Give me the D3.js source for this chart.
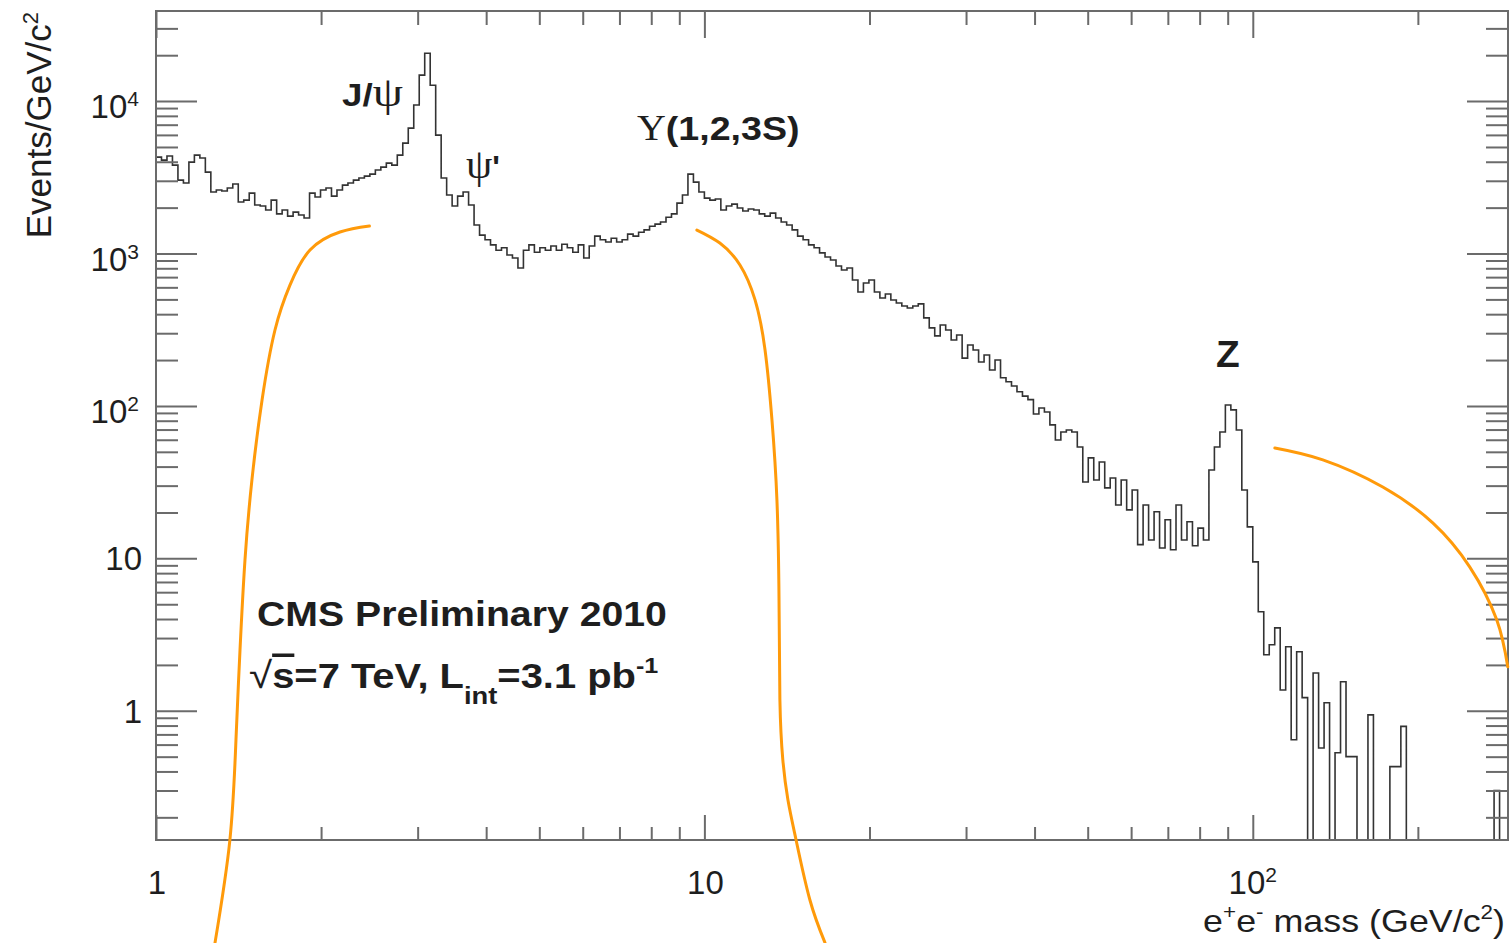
<!DOCTYPE html>
<html>
<head>
<meta charset="utf-8">
<script src="https://cdn.jsdelivr.net/npm/d3@7"></script>
<style>
  html, body { margin: 0; padding: 0; background: #fff; }
  svg { display: block; }
  text { font-family: "Liberation Sans", Arial, Helvetica, sans-serif; fill: #1e1e1e; }
</style>
</head>
<body>
<svg id="chart" width="1510" height="943"></svg>
<script>
// ---- data ----
// e+e- invariant mass histogram, log bins: 100 per decade starting at 1 GeV/c2
const massStart = 1;
const binsPerDecade = 100;
const eventsPerGeV = [
  4290, 4100, 4360, 3800, 3030, 2900, 3980, 4420, 4230, 3420,
  2530, 2610, 2570, 2690, 2860, 2180, 2240, 2490, 2080, 2050,
  1930, 2240, 1820, 1930, 1760, 1870, 1790, 1710, 2490, 2350,
  2610, 2690, 2380, 2610, 2810, 2900, 3030, 3130, 3220, 3320,
  3530, 3690, 3920, 3800, 4420, 5300, 6650, 9420, 14800, 20600,
  12700, 5980, 3130, 2420, 2050, 2380, 2530, 2080, 1540, 1320,
  1230, 1140, 1050, 1090, 978, 934, 803, 1050, 1140, 1020,
  1090, 1050, 1120, 1050, 1150, 1090, 1020, 1140, 934, 1120,
  1300, 1230, 1190, 1260, 1190, 1230, 1340, 1300, 1380, 1430,
  1510, 1560, 1610, 1730, 1820, 2140, 2420, 3320, 2940, 2530,
  2310, 2240, 2280, 1930, 2050, 2110, 1990, 1900, 1960, 1930,
  1820, 1760, 1840, 1710, 1610, 1540, 1430, 1300, 1230, 1140,
  1090, 1010, 948, 907, 828, 780, 803, 670, 559, 641,
  670, 559, 511, 543, 496, 474, 453, 439, 453, 467,
  378, 325, 288, 340, 315, 271, 292, 206, 251, 233,
  194, 216, 172, 200, 153, 144, 135, 124, 116, 110,
  88.6, 97.0, 91.3, 75.1, 59.8, 67.5, 69.6, 67.5, 53.8, 31.7,
  45.6, 32.7, 42.9, 29.0, 33.7, 22.4, 32.7, 20.8, 28.1, 12.3,
  22.4, 13.2, 20.2, 11.7, 17.9, 11.4, 22.4, 13.2, 17.4, 12.1,
  15.8, 13.2, 38.0, 53.8, 67.5, 101.5, 94.2, 69.6, 28.1, 16.1,
  9.49, 4.46, 2.33, 2.71, 3.50, 1.37, 2.63, 0.645, 2.44, 1.22,
  0, 1.77, 0.57, 1.13, 0, 0.53, 1.55, 0.50, 0.50, 0,
  0, 0.94, 0, 0, 0, 0.43, 0.43, 0.79, 0, 0,
  0, 0, 0, 0, 0, 0, 0, 0, 0, 0,
  0, 0, 0, 0, 0.3, 0, 0
];

// axis ranges and tick labels
const massRange = [1, 292];
const eventsRange = [0.142, 39000];
const xTickLabels = [
  { value: 1, base: "1" },
  { value: 10, base: "10" },
  { value: 100, base: "10", exp: "2" }
];
const yTickLabels = [
  { value: 1, base: "1" },
  { value: 10, base: "10" },
  { value: 100, base: "10", exp: "2" },
  { value: 1000, base: "10", exp: "3" },
  { value: 10000, base: "10", exp: "4" }
];

// hand-drawn orange arcs, in (mass, events/GeV) coordinates
const arcLeft = [
  [2.450, 1515], [2.165, 1384], [1.909, 1054], [1.755, 621], [1.648, 315],
  [1.561, 109.5], [1.496, 32.7], [1.453, 9.78], [1.423, 2.51], [1.399, 0.645],
  [1.364, 0.143], [1.281, 0.030]
];
const arcMiddle = [
  [9.69, 1426], [10.67, 1172], [11.61, 841], [12.37, 496], [12.90, 233],
  [13.28, 80.9], [13.56, 24.2], [13.68, 5.34], [13.73, 1.18], [13.90, 0.477],
  [14.20, 0.261], [14.69, 0.143], [15.57, 0.0576], [16.59, 0.0301]
];
const arcRight = [
  [109.7, 53.0], [134.2, 44.3], [172.6, 29.4], [212.9, 17.1], [248.6, 8.80],
  [278.5, 3.95], [291.7, 1.944]
];

// ---- layout ----
const frame = { left: 156, right: 1508, top: 11, bottom: 840 };
const axisColor = "#6b6b6b";
const histColor = "#333";
const arcColor = "#ff9a0a";

const svg = d3.select("#chart");

const x = d3.scaleLog().domain(massRange).range([frame.left, frame.right]);
const y = d3.scaleLog().domain(eventsRange).range([frame.bottom, frame.top]);

const isDecade = v => Math.abs(Math.log10(v) - Math.round(Math.log10(v))) < 1e-9;

// text with super/subscripts: parts = [{t, shift, size, weight, family, deco}]
function richText(parent, parts, attrs) {
  const t = parent.append("text");
  Object.entries(attrs).forEach(([k, v]) => t.attr(k, v));
  let cur = 0;
  parts.forEach(p => {
    const s = t.append("tspan").text(p.t);
    const target = p.shift || 0;
    if (target !== cur) s.attr("dy", target - cur);
    cur = target;
    if (p.size) s.attr("font-size", p.size);
    if (p.weight) s.attr("font-weight", p.weight);
    if (p.family) s.style("font-family", p.family);
    if (p.deco) s.style("text-decoration", p.deco);
  });
  return t;
}

// clip for the histogram
svg.append("defs").append("clipPath").attr("id", "plotClip")
  .append("rect")
  .attr("x", frame.left).attr("y", frame.top)
  .attr("width", frame.right - frame.left)
  .attr("height", frame.bottom - frame.top);

// ---- histogram ----
const binEdge = i => massStart * Math.pow(10, i / binsPerDecade);
const stepPoints = eventsPerGeV.map((v, i) => [binEdge(i), v]);
stepPoints.push([binEdge(eventsPerGeV.length), eventsPerGeV[eventsPerGeV.length - 1]]);

const stepLine = d3.line()
  .x(d => x(d[0]))
  .y(d => d[1] > 0 ? y(d[1]) : frame.bottom)
  .curve(d3.curveStepAfter);

svg.append("path")
  .attr("clip-path", "url(#plotClip)")
  .attr("d", stepLine(stepPoints))
  .attr("fill", "none")
  .attr("stroke", histColor)
  .attr("stroke-width", 1.6)
  .attr("stroke-linejoin", "miter");

// ---- frame and ticks ----
svg.append("rect")
  .attr("x", frame.left).attr("y", frame.top)
  .attr("width", frame.right - frame.left)
  .attr("height", frame.bottom - frame.top)
  .attr("fill", "none")
  .attr("stroke", axisColor)
  .attr("stroke-width", 2);

const xTicks = x.ticks();
const yTicks = y.ticks();
const xMajor = xTicks.filter(isDecade), xMinor = xTicks.filter(v => !isDecade(v));
const yMajor = yTicks.filter(isDecade), yMinor = yTicks.filter(v => !isDecade(v));

function tickAxis(axis, values, size, tx, ty) {
  const g = svg.append("g")
    .attr("transform", `translate(${tx},${ty})`)
    .call(axis.tickValues(values).tickSize(-size).tickFormat(""));
  g.select(".domain").remove();
  g.selectAll("line").attr("stroke", axisColor).attr("stroke-width", 2);
  return g;
}

tickAxis(d3.axisLeft(y), yMajor, 41, frame.left, 0);
tickAxis(d3.axisLeft(y), yMinor, 22, frame.left, 0);
tickAxis(d3.axisRight(y), yMajor, 41, frame.right, 0);
tickAxis(d3.axisRight(y), yMinor, 22, frame.right, 0);
tickAxis(d3.axisBottom(x), xMajor, 25, 0, frame.bottom);
tickAxis(d3.axisBottom(x), xMinor, 13, 0, frame.bottom);
tickAxis(d3.axisTop(x), xMajor, 27, 0, frame.top);
tickAxis(d3.axisTop(x), xMinor, 14, 0, frame.top);

// ---- tick labels ----
const labelSize = 33;
yTickLabels.forEach(d => {
  const parts = [{ t: d.base }];
  if (d.exp) parts.push({ t: d.exp, size: 21, shift: -12 });
  richText(svg, parts, {
    x: d.exp ? 139 : 142,
    y: y(d.value) + (d.exp ? 17 : 12),
    "text-anchor": "end",
    "font-size": labelSize
  });
});
xTickLabels.forEach(d => {
  const parts = [{ t: d.base }];
  if (d.exp) parts.push({ t: d.exp, size: 21, shift: -12 });
  richText(svg, parts, {
    x: x(d.value) + (d.exp ? 0 : 1),
    y: 894,
    "text-anchor": "middle",
    "font-size": labelSize
  });
});

// ---- axis titles ----
richText(svg, [
  { t: "Events/GeV/c" }, { t: "2", size: 22, shift: -13 }
], {
  transform: "translate(51,12) rotate(-90)",
  "text-anchor": "end",
  "font-size": 35
});

richText(svg, [
  { t: "e" }, { t: "+", size: 20, shift: -13 }, { t: "e" }, { t: "-", size: 20, shift: -13 },
  { t: " mass (GeV/c" }, { t: "2", size: 20, shift: -13 }, { t: ")" }
], {
  transform: "translate(1505,932) scale(1.12,1)",
  "text-anchor": "end",
  "font-size": 32
});

// ---- resonance labels ----
const greek = "'Liberation Serif', 'DejaVu Serif', serif";

richText(svg, [
  { t: "J/", weight: "bold" }, { t: "\u03c8", family: greek, size: 42 }
], { transform: "translate(342,106) scale(1.15,1)", "font-size": 32 });

richText(svg, [
  { t: "\u03c8", family: greek, size: 42 }, { t: "'", weight: "bold", size: 32 }
], { transform: "translate(466,178)", "font-size": 32 });

richText(svg, [
  { t: "\u03a5", family: greek, size: 35 }, { t: "(1,2,3S)", weight: "bold" }
], { transform: "translate(637,140) scale(1.14,1)", "font-size": 33 });

richText(svg, [{ t: "Z", weight: "bold" }], {
  transform: "translate(1216,367) scale(1.05,1)", "font-size": 37
});

// ---- CMS caption ----
richText(svg, [{ t: "CMS Preliminary 2010", weight: "bold" }], {
  transform: "translate(257,626) scale(1.09,1)", "font-size": 36
});
richText(svg, [
  { t: "\u221a", size: 37 },
  { t: "s", weight: "bold", deco: "overline" },
  { t: "=7 TeV, L", weight: "bold" },
  { t: "int", weight: "bold", size: 24, shift: 16 },
  { t: "=3.1 pb", weight: "bold" },
  { t: "-1", weight: "bold", size: 22, shift: -15 }
], { transform: "translate(249,688) scale(1.14,1)", "font-size": 35 });

// ---- orange arcs ----
const arcLine = d3.line()
  .x(d => x(d[0]))
  .y(d => y(d[1]))
  .curve(d3.curveNatural);

[arcLeft, arcMiddle, arcRight].forEach(arc => {
  svg.append("path")
    .attr("d", arcLine(arc))
    .attr("fill", "none")
    .attr("stroke", arcColor)
    .attr("stroke-width", 3)
    .attr("stroke-linecap", "round");
});
</script>
</body>
</html>
